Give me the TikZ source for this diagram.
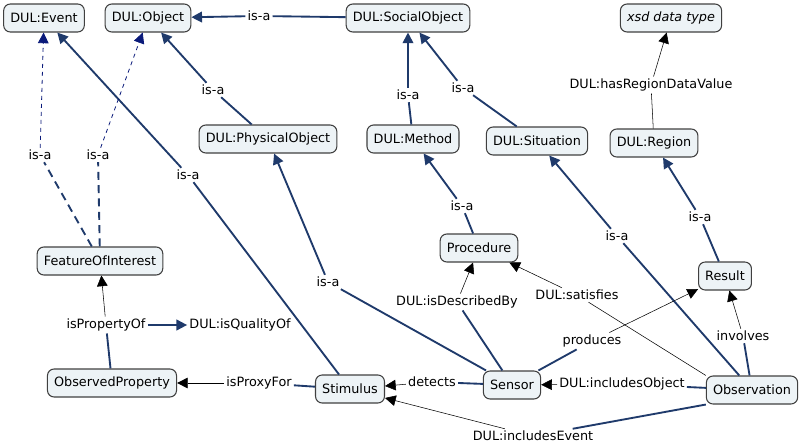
\documentclass[tikz,border=0pt]{standalone}
\usepackage{fontspec}
\setmainfont{DejaVu Sans}
\usetikzlibrary{arrows.meta,positioning}
\definecolor{navy}{HTML}{1F3A6B}
\definecolor{isablue}{HTML}{0A1A7A}
\definecolor{cfill}{HTML}{EDF3F6}
\tikzset{
  cmap/.style={x=0.75pt,y=-0.75pt,font=\fontsize{9.6}{11}\selectfont},
  concept/.style={draw=black!75,fill=cfill,rounded corners=5pt,thick,
     inner xsep=5pt,minimum height=21pt},
  lbl/.style={fill=white,inner sep=1.5pt},
  tail/.style={draw=navy,line width=1.4pt},
  dtail/.style={tail,dash pattern=on 6pt off 4pt},
  isa/.style={tail,-{Triangle[width=8pt,length=8pt]}},
  disa/.style={draw=isablue,semithick,dashed,-{Triangle[width=8pt,length=8pt]},color=isablue},
  rel/.style={draw=black,thin,-{Triangle[width=8pt,length=8pt]}},
}
\begin{document}
\begin{tikzpicture}[cmap]
  \useasboundingbox (0,0) rectangle (800,446);
  % concepts
  \node[concept] (event) at (44,18) {DUL:Event};
  \node[concept] (object) at (148,18) {DUL:Object};
  \node[concept] (social) at (408,18) {DUL:SocialObject};
  \node[concept,font=\fontsize{9.6}{11}\itshape] (xsd) at (671,18) {xsd data type};
  \node[concept] (physical) at (268,139) {DUL:PhysicalObject};
  \node[concept] (method) at (413,139) {DUL:Method};
  \node[concept] (situation) at (537,141) {DUL:Situation};
  \node[concept] (region) at (654,143) {DUL:Region};
  \node[concept] (foi) at (100,261) {FeatureOfInterest};
  \node[concept] (procedure) at (479,248) {Procedure};
  \node[concept] (result) at (725,276) {Result};
  \node[concept] (property) at (112,383) {ObservedProperty};
  \node[concept] (stimulus) at (350,389) {Stimulus};
  \node[concept] (sensor) at (512,385) {Sensor};
  \node[concept] (observation) at (752,390) {Observation};
  % link labels
  \node[lbl] (l1) at (259,16) {is-a};
  \node[lbl] (l2) at (408,95) {is-a};
  \node[lbl] (l3) at (463,88) {is-a};
  \node[lbl] (l4) at (651,85) {DUL:hasRegionDataValue};
  \node[lbl] (l5) at (40,155) {is-a};
  \node[lbl] (l6) at (98,155) {is-a};
  \node[lbl] (l7) at (213,90) {is-a};
  \node[lbl] (l8) at (188,175) {is-a};
  \node[lbl] (l9) at (328,282) {is-a};
  \node[lbl] (l10) at (462,206) {is-a};
  \node[lbl] (l11) at (617,236) {is-a};
  \node[lbl] (l12) at (700,217) {is-a};
  \node[lbl] (l13) at (106,325) {isPropertyOf};
  \node[lbl] (quality) at (240,325) {DUL:isQualityOf};
  \node[lbl] (l14) at (259,383) {isProxyFor};
  \node[lbl] (l15) at (432,382) {detects};
  \node[lbl] (l16) at (457,302) {DUL:isDescribedBy};
  \node[lbl] (l17) at (577,295) {DUL:satisfies};
  \node[lbl] (l18) at (592,341) {produces};
  \node[lbl] (l19) at (743,336) {involves};
  \node[lbl] (l20) at (622,384) {DUL:includesObject};
  \node[lbl] (l21) at (533,436) {DUL:includesEvent};
  % is-a links
  \draw[tail] (social) -- (l1); \draw[isa] (l1) -- (object);
  \draw[tail] (method) -- (l2); \draw[isa] (l2) -- (social);
  \draw[tail] (situation) -- (l3); \draw[isa] (l3) -- (social);
  \draw[tail] (physical) -- (l7); \draw[isa] (l7) -- (object);
  \draw[tail] (stimulus) -- (l8); \draw[isa] (l8) -- (event);
  \draw[tail] (sensor) -- (l9); \draw[isa] (l9) -- (physical);
  \draw[tail] (procedure) -- (l10); \draw[isa] (l10) -- (method);
  \draw[tail] (observation) -- (l11); \draw[isa] (l11) -- (situation);
  \draw[tail] (result) -- (l12); \draw[isa] (l12) -- (region);
  \draw[dtail] (foi) -- (l5); \draw[disa] (l5) -- (event);
  \draw[dtail] (foi) -- (l6); \draw[disa] (l6) -- (object);
  % relations
  \draw[rel] (region) -- (l4) -- (xsd);
  \draw[tail] (property) -- (l13); \draw[rel] (l13) -- (foi);
  \draw[isa] (l13) -- (quality);
  \draw[tail] (stimulus) -- (l14); \draw[rel] (l14) -- (property);
  \draw[tail] (sensor) -- (l15); \draw[rel] (l15) -- (stimulus);
  \draw[tail] (sensor) -- (l16); \draw[rel] (l16) -- (procedure);
  \draw[draw=black,thin] (observation.north west) -- (l17); \draw[rel] (l17) -- (procedure);
  \draw[tail] (sensor) -- (l18); \draw[rel] (l18) -- (result);
  \draw[tail] (observation) -- (l19); \draw[rel] (l19) -- (result);
  \draw[tail] (observation) -- (l20); \draw[rel] (l20) -- (sensor);
  \draw[tail] (observation.south west) -- (l21); \draw[rel] (l21) -- (stimulus);
\end{tikzpicture}
\end{document}
